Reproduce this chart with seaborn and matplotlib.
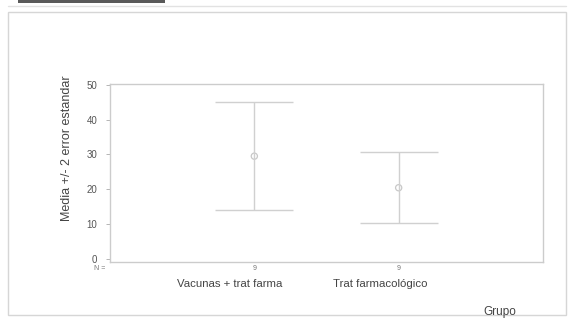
import matplotlib
matplotlib.use("Agg")
import matplotlib.pyplot as plt
import seaborn as sns
import pandas as pd
from matplotlib.patches import Rectangle

# Group summaries: mean and 2 standard errors
grupos = ["Vacunas + trat farma", "Trat farmacológico"]
medias = [29.5, 20.4]
dos_ee = [15.6, 10.3]
n_casos = ["9", "9"]
y_ticks = [0, 10, 20, 30, 40, 50]

df = pd.DataFrame({"Grupo": grupos, "Media": medias, "EE2": dos_ee})

sns.set_theme(style="white")
plt.rcParams["font.family"] = ["Liberation Sans", "DejaVu Sans"]

W, H = 569, 321
fig = plt.figure(figsize=(W / 100, H / 100), dpi=100)
fig.patch.set_facecolor("white")

# outer frame of the chart panel
fig.patches.append(Rectangle((8 / W, 1 - 315 / H), 558 / W, 303 / H,
                             transform=fig.transFigure, fill=False,
                             edgecolor="#d6d6d6", linewidth=1.0))
fig.lines.append(plt.Line2D([8 / W, 566 / W], [1 - 6 / H, 1 - 6 / H],
                            transform=fig.transFigure, color="#e2e2e2", lw=1.0))
# dark heading strip along the top edge
fig.patches.append(Rectangle((18 / W, 1 - 3 / H), 147 / W, 3 / H,
                             transform=fig.transFigure, facecolor="#5a5a5a",
                             edgecolor="none"))

ax = fig.add_axes([110 / W, 1 - 262 / H, 433 / W, 178 / H])
ax.set_facecolor("white")

x_pos = [1, 2]
ax.errorbar(x_pos, df["Media"], yerr=df["EE2"], fmt="none",
            ecolor="#d0d0d0", elinewidth=1.0, capsize=28, capthick=1.0)
sns.scatterplot(x=x_pos, y=df["Media"], ax=ax, marker="o", s=20,
                facecolor="none", edgecolor="#c8c8c8", linewidth=0.9,
                legend=False)

ax.set_xlim(0, 3)
ax.set_ylim(-1.0, 50.3)
ax.set_yticks(y_ticks)
ax.set_yticklabels([str(v) for v in y_ticks], fontsize=7, color="#555555")
ax.set_xticks([])
ax.tick_params(axis="y", length=3, width=0.6, color="#aaaaaa", pad=6, left=True)
for s in ax.spines.values():
    s.set_color("#cccccc")
    s.set_linewidth(1.0)

ax.set_ylabel("Media +/- 2 error estandar", fontsize=9, color="#444444")
ax.yaxis.set_label_coords(-0.085, 0.64)

# case counts and category labels under the axis
trans = ax.get_xaxis_transform()
fig.text(100 / W, 1 - 268 / H, "N =", fontsize=5, color="#777777",
         ha="center", va="center")
for xp, n in zip(x_pos, n_casos):
    ax.text(xp, -0.035, n, transform=trans, fontsize=5, color="#777777",
            ha="center", va="center")
label_x = [230 / W, 380 / W]
for lx, g in zip(label_x, grupos):
    fig.text(lx, 1 - 284 / H, g, fontsize=8.2, color="#444444",
             ha="center", va="center")

fig.text(500 / W, 1 - 312 / H, "Grupo", fontsize=8.5, color="#444444",
         ha="center", va="center")

fig.savefig("out.png", dpi=100, facecolor="white")
